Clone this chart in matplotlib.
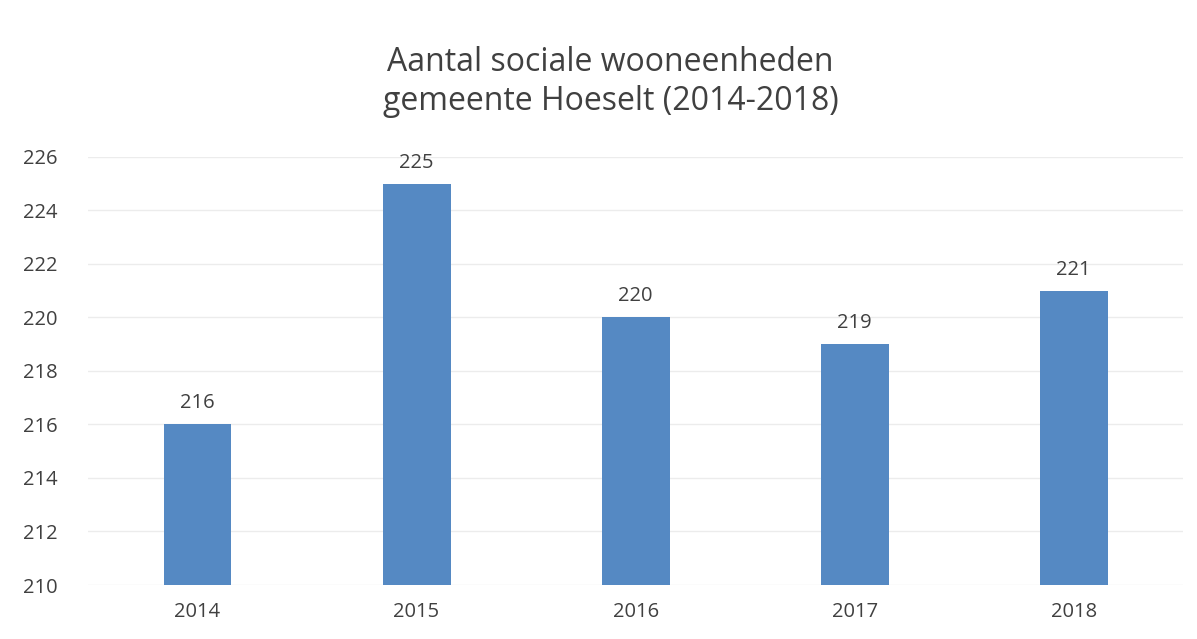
import matplotlib
matplotlib.use('Agg')
import matplotlib.pyplot as plt

# aantal sociale wooneenheden per jaar
jaren = ['2014', '2015', '2016', '2017', '2018']
aantallen = [216, 225, 220, 219, 221]

plt.rcParams['font.family'] = ['Open Sans', 'DejaVu Sans']
tekstkleur = '#404040'

fig = plt.figure(figsize=(11.97, 6.39), dpi=100)
ax = fig.add_axes([0.0735, 0.0845, 0.915, 0.67])

x = range(len(jaren))
balken = ax.bar(x, aantallen, width=0.31, color='#5589c3', zorder=2)
ax.bar_label(balken, labels=[str(a) for a in aantallen], padding=8,
             fontsize=14.5, color=tekstkleur)

ax.set_ylim(210, 226)
ax.set_xlim(-0.5, len(jaren) - 0.5)
ax.set_yticks(range(210, 227, 2))
ax.set_xticks(list(x))
ax.set_xticklabels(jaren)
ax.tick_params(length=0, labelsize=14.5, colors=tekstkleur)
ax.tick_params(axis='y', pad=22)
ax.tick_params(axis='x', pad=12)
ax.grid(axis='y', color='#ececec', linewidth=1, zorder=0)
for s in ax.spines.values():
    s.set_visible(False)

fig.text(0.51, 0.872, 'Aantal sociale wooneenheden\ngemeente Hoeselt (2014-2018)',
         ha='center', va='center', fontsize=23, color=tekstkleur, linespacing=1.25)

fig.savefig('out.png', dpi=100, facecolor='white')
